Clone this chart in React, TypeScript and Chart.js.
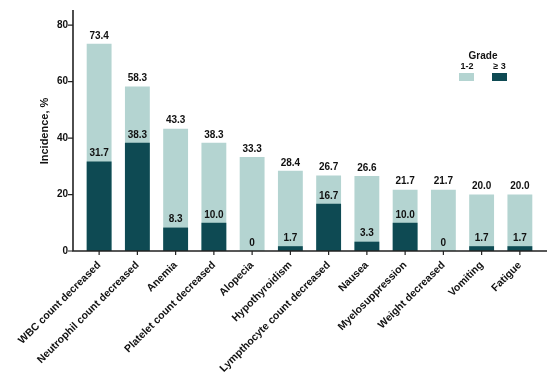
import React, { useEffect, useRef } from 'react';
import { Chart, registerables } from 'chart.js';
Chart.register(...registerables);

const categories = [
  'WBC count decreased',
  'Neutrophil count decreased',
  'Anemia',
  'Platelet count decreased',
  'Alopecia',
  'Hypothyroidism',
  'Lympthocyte count decreased',
  'Nausea',
  'Myelosuppression',
  'Weight decreased',
  'Vomiting',
  'Fatigue',
];
const totalValues = [73.4, 58.3, 43.3, 38.3, 33.3, 28.4, 26.7, 26.6, 21.7, 21.7, 20.0, 20.0];
const grade3Values = [31.7, 38.3, 8.3, 10.0, 0, 1.7, 16.7, 3.3, 10.0, 0, 1.7, 1.7];
const yTicks = [0, 20, 40, 60, 80];
const seriesNames = ['1-2', '≥ 3'];
const legendTitle = 'Grade';
const yTitle = 'Incidence, %';

const FONT = "'Liberation Sans', Arial, Helvetica, sans-serif";
const LIGHT = '#b4d4d1';
const DARK = '#0e4a53';
const INK = '#111111';

const customPlugin = {
  id: 'customDraw',
  afterDatasetsDraw(chart: any) {
    const ctx = chart.ctx;
    const { left, right, top, bottom } = chart.chartArea;
    ctx.save();
    // value labels
    ctx.font = `bold 10px ${FONT}`;
    ctx.fillStyle = INK;
    ctx.textAlign = 'center';
    ctx.textBaseline = 'bottom';
    chart.data.datasets.forEach((ds: any, i: number) => {
      const meta = chart.getDatasetMeta(i);
      meta.data.forEach((el: any, j: number) => {
        const v = ds.data[j];
        ctx.fillText(v === 0 ? '0' : v.toFixed(1), el.x, el.y - 3);
      });
    });
    // axes
    const ax = left - 7;
    ctx.strokeStyle = '#222';
    ctx.lineWidth = 1.6;
    ctx.beginPath();
    ctx.moveTo(ax, top - 1);
    ctx.lineTo(ax, bottom);
    ctx.lineTo(right + 8, bottom);
    ctx.stroke();
    ctx.lineWidth = 1.2;
    const ys = chart.scales.y;
    ctx.beginPath();
    yTicks.forEach((v) => {
      const y = ys.getPixelForValue(v);
      ctx.moveTo(ax - 5, y);
      ctx.lineTo(ax, y);
    });
    const xs = chart.scales.x;
    categories.forEach((_c, i) => {
      const x = xs.getPixelForValue(i);
      ctx.moveTo(x, bottom);
      ctx.lineTo(x, bottom + 4);
    });
    ctx.stroke();
    // legend
    ctx.fillStyle = INK;
    ctx.textBaseline = 'middle';
    ctx.textAlign = 'center';
    ctx.font = `bold 10px ${FONT}`;
    ctx.fillText(legendTitle, 483, 56);
    ctx.font = `bold 9px ${FONT}`;
    ctx.fillText(seriesNames[0], 467, 67);
    ctx.fillText(seriesNames[1], 499.5, 67);
    ctx.fillStyle = LIGHT;
    ctx.fillRect(459, 73, 15, 8);
    ctx.fillStyle = DARK;
    ctx.fillRect(492, 73, 15, 8);
    ctx.restore();
  },
};

export default function App() {
  const ref = useRef<HTMLCanvasElement>(null);
  useEffect(() => {
    if (!ref.current) return;
    const chart = new Chart(ref.current, {
      type: 'bar',
      data: {
        labels: categories,
        datasets: [
          {
            label: seriesNames[1],
            data: grade3Values,
            backgroundColor: DARK,
            grouped: false,
            order: 1,
            barPercentage: 0.65,
            categoryPercentage: 1,
          } as any,
          {
            label: seriesNames[0],
            data: totalValues,
            backgroundColor: LIGHT,
            grouped: false,
            order: 2,
            barPercentage: 0.65,
            categoryPercentage: 1,
          } as any,
        ],
      },
      options: {
        responsive: false,
        animation: false,
        layout: { padding: { left: 0, right: 14, top: 11, bottom: 0 } },
        plugins: { legend: { display: false }, tooltip: { enabled: false } },
        scales: {
          x: {
            offset: true,
            grid: { display: false, drawTicks: false },
            border: { display: false },
            ticks: {
              autoSkip: false,
              maxRotation: 45,
              minRotation: 45,
              padding: 8,
              color: INK,
              font: { family: FONT, size: 10.5, weight: 'bold' },
            },
            afterFit: (s: any) => {
              s.height = 133;
            },
          },
          y: {
            min: 0,
            max: 85,
            grid: { display: false, drawTicks: false },
            border: { display: false },
            afterBuildTicks: (s: any) => {
              s.ticks = yTicks.map((v) => ({ value: v }));
            },
            ticks: {
              padding: 12,
              color: INK,
              font: { family: FONT, size: 10, weight: 'bold' },
            },
            title: {
              display: true,
              text: yTitle,
              color: INK,
              font: { family: FONT, size: 11, weight: 'bold' },
              padding: { top: 38, bottom: 0 },
            },
            afterFit: (s: any) => {
              s.width = 80;
              s.paddingTop = 0;
              s.paddingBottom = 0;
            },
          },
        },
      },
      plugins: [customPlugin],
    });
    return () => chart.destroy();
  }, []);
  return (
    <canvas
      ref={ref}
      width={553}
      height={384}
      style={{ position: 'absolute', left: 0, top: 0, width: 553, height: 384 }}
    />
  );
}
